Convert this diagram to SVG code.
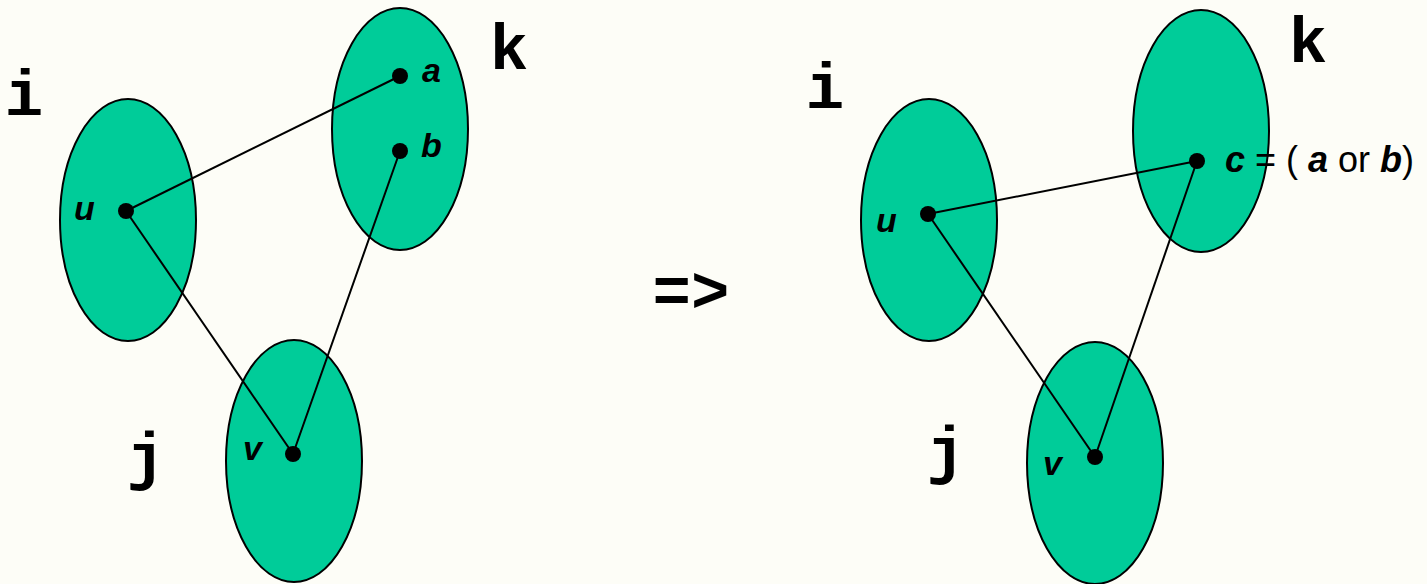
<svg xmlns="http://www.w3.org/2000/svg" width="1427" height="584" viewBox="0 0 1427 584">
<style>
.set{fill:#00CC99;stroke:#000;stroke-width:2}
.dot{fill:#000}
.edge{stroke:#000;stroke-width:2;fill:none}
.mono{font-family:"Liberation Mono","Courier New",monospace;font-weight:bold;font-size:64px;fill:#000;text-anchor:middle}
.var{font-family:"Liberation Sans",Arial,sans-serif;font-weight:bold;font-style:italic;font-size:34px;fill:#000}
.reg{font-family:"Liberation Sans",Arial,sans-serif;font-size:36px;fill:#000}
.reg .var{font-size:36px}
</style>
<rect width="1427" height="584" fill="#FDFDF7"/>
<g id="left-set-i"><ellipse class="set" cx="128" cy="220" rx="68" ry="121"/><text class="mono" x="24" y="115">i</text></g>
<g id="left-set-k"><ellipse class="set" cx="400" cy="129" rx="68" ry="121"/><text class="mono" x="509" y="69">k</text></g>
<g id="left-set-j"><ellipse class="set" cx="294" cy="461" rx="68" ry="121"/><text class="mono" x="146" y="478">j</text></g>
<g id="right-set-i"><ellipse class="set" cx="929" cy="220" rx="68" ry="121"/><text class="mono" x="825" y="108">i</text></g>
<g id="right-set-k"><ellipse class="set" cx="1201" cy="131" rx="68" ry="121"/><text class="mono" x="1308" y="62">k</text></g>
<g id="right-set-j"><ellipse class="set" cx="1095" cy="463" rx="68" ry="121"/><text class="mono" x="946" y="472">j</text></g>
<g id="connectors">
<line class="edge" x1="126" y1="211" x2="400" y2="76"/>
<line class="edge" x1="126" y1="211" x2="293" y2="454"/>
<line class="edge" x1="400" y1="151" x2="293" y2="454"/>
<line class="edge" x1="928" y1="214" x2="1197" y2="161"/>
<line class="edge" x1="928" y1="214" x2="1095" y2="457"/>
<line class="edge" x1="1197" y1="161" x2="1095" y2="457"/>
</g>
<g id="left-u"><circle class="dot" cx="126" cy="211" r="8"/><text class="var" x="74" y="220">u</text></g>
<g id="left-a"><circle class="dot" cx="400" cy="76" r="8"/><text class="var" x="422" y="82">a</text></g>
<g id="left-b"><circle class="dot" cx="400" cy="151" r="8"/><text class="var" x="421" y="157">b</text></g>
<g id="left-v"><circle class="dot" cx="293" cy="454" r="8"/><text class="var" x="243" y="460">v</text></g>
<g id="right-u"><circle class="dot" cx="928" cy="214" r="8"/><text class="var" x="876" y="232">u</text></g>
<g id="right-c"><circle class="dot" cx="1197" cy="161" r="8"/><text class="reg" x="1225" y="172" xml:space="preserve"><tspan class="var">c</tspan> = ( <tspan class="var">a</tspan> or <tspan class="var">b</tspan>)</text></g>
<g id="right-v"><circle class="dot" cx="1095" cy="457" r="8"/><text class="var" x="1043" y="475">v</text></g>
<g id="arrow"><text class="mono" x="691" y="312">=&gt;</text></g>
</svg>
